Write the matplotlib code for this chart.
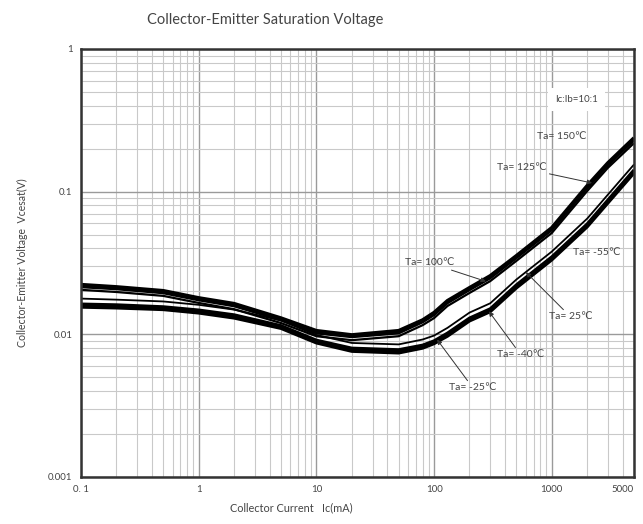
import numpy as np
import matplotlib
matplotlib.use("Agg")
import matplotlib.pyplot as plt
from matplotlib.ticker import FixedLocator, FixedFormatter, LogLocator, NullFormatter

plt.rcParams['font.family'] = ['Lato', 'DejaVu Sans']

# ------------------------------------
# Data
# ------------------------------------
ic_ma = [0.1, 0.2, 0.5, 1, 2, 5, 10, 20, 50, 80, 100, 130, 200, 300, 500, 1000, 2000, 3000, 5000]

vce_150 = [0.0223, 0.0215, 0.0202, 0.0180, 0.0164, 0.0130, 0.0106, 0.0099, 0.0106, 0.0126,
           0.0142, 0.0172, 0.0212, 0.0257, 0.0355, 0.0558, 0.110, 0.159, 0.238]
vce_125 = [0.0215, 0.0208, 0.0195, 0.0174, 0.0158, 0.0126, 0.0102, 0.0096, 0.0102, 0.0122,
           0.0137, 0.0166, 0.0205, 0.0248, 0.0343, 0.0539, 0.106, 0.154, 0.230]
vce_100 = [0.0205, 0.0198, 0.0186, 0.0166, 0.0150, 0.0120, 0.0097, 0.0091, 0.0097, 0.0116,
           0.0130, 0.0158, 0.0195, 0.0236, 0.0327, 0.0513, 0.101, 0.147, 0.219]
vce_25 = [0.0178, 0.0175, 0.0170, 0.0161, 0.0149, 0.0125, 0.0099, 0.0087, 0.0085, 0.0092,
          0.0098, 0.0111, 0.0142, 0.0165, 0.0242, 0.0380, 0.0647, 0.0953, 0.155]
vce_m25 = [0.0163, 0.0161, 0.0156, 0.0148, 0.0137, 0.0115, 0.0091, 0.0080, 0.0078, 0.0084,
           0.0090, 0.0102, 0.0130, 0.0151, 0.0222, 0.0349, 0.0594, 0.0874, 0.142]
vce_m40 = [0.0158, 0.0156, 0.0151, 0.0144, 0.0133, 0.0112, 0.0088, 0.0078, 0.0076, 0.0082,
           0.0087, 0.0099, 0.0126, 0.0147, 0.0216, 0.0339, 0.0577, 0.0849, 0.138]
vce_m55 = [0.0155, 0.0153, 0.0149, 0.0141, 0.0130, 0.0110, 0.0087, 0.0076, 0.0074, 0.0080,
           0.0086, 0.0097, 0.0124, 0.0144, 0.0211, 0.0332, 0.0566, 0.0832, 0.135]

x_ticks = [0.1, 1, 10, 100, 1000, 5000]
x_tick_labels = ["0. 1", "1", "10", "100", "1000", "5000"]
y_ticks = [0.001, 0.01, 0.1, 1]
y_tick_labels = ["0.001", "0.01", "0.1", "1"]

text_col = "#444444"

# ------------------------------------
# Figure
# ------------------------------------
fig = plt.figure(figsize=(6.43, 5.24), dpi=100)
ax = fig.add_axes([0.126, 0.0897, 0.860, 0.8168])

ax.set_xscale("log")
ax.set_yscale("log")
ax.set_xlim(0.1, 5000)
ax.set_ylim(0.001, 1)

# grid
ax.xaxis.set_minor_locator(LogLocator(base=10, subs=np.arange(2, 10)))
ax.yaxis.set_minor_locator(LogLocator(base=10, subs=np.arange(2, 10)))
ax.xaxis.set_minor_formatter(NullFormatter())
ax.yaxis.set_minor_formatter(NullFormatter())
ax.grid(True, which="minor", color="#c9c9c9", lw=0.8)
ax.grid(True, which="major", color="#9a9a9a", lw=1.0)
ax.set_axisbelow(True)

ax.xaxis.set_major_locator(FixedLocator(x_ticks))
ax.xaxis.set_major_formatter(FixedFormatter(x_tick_labels))
ax.yaxis.set_major_locator(FixedLocator(y_ticks))
ax.yaxis.set_major_formatter(FixedFormatter(y_tick_labels))
ax.tick_params(which="both", length=0, labelsize=7, colors=text_col, pad=6)
fig.canvas.draw()
last = ax.get_xticklabels()[-1]
last.set_horizontalalignment("right")
last.set_x(5000)

for s in ax.spines.values():
    s.set_linewidth(1.8)
    s.set_color("#333333")

# curves
ax.plot(ic_ma, vce_150, color="black", lw=2.6, solid_capstyle="butt")
ax.plot(ic_ma, vce_125, color="black", lw=2.0, solid_capstyle="butt")
ax.plot(ic_ma, vce_100, color="black", lw=1.6, solid_capstyle="butt")
ax.plot(ic_ma, vce_25, color="black", lw=1.3, solid_capstyle="butt")
ax.plot(ic_ma, vce_m25, color="black", lw=2.2, solid_capstyle="butt")
ax.plot(ic_ma, vce_m40, color="black", lw=2.2, solid_capstyle="butt")
ax.plot(ic_ma, vce_m55, color="black", lw=2.2, solid_capstyle="butt")

# labels with leader arrows
arrow = dict(arrowstyle="-|>", lw=0.7, color="#333333", mutation_scale=7, shrinkA=0, shrinkB=0)
fs = 7.5
ax.text(1216, 0.242, "Ta= 150℃", fontsize=fs, color=text_col, ha="center", va="center")
ax.annotate("Ta= 125℃", xy=(2200, 0.115), xytext=(557, 0.1466), fontsize=fs, color=text_col,
            ha="center", va="center", arrowprops=arrow)
ax.annotate("Ta= 100℃", xy=(276, 0.0235), xytext=(91, 0.0317), fontsize=fs, color=text_col,
            ha="center", va="center", arrowprops=arrow)
ax.text(2405, 0.0372, "Ta= -55℃", fontsize=fs, color=text_col, ha="center", va="center")
ax.annotate("Ta= 25℃", xy=(602, 0.0273), xytext=(1449, 0.01324), fontsize=fs, color=text_col,
            ha="center", va="center", arrowprops=arrow)
ax.annotate("Ta= -40℃", xy=(292, 0.0145), xytext=(546, 0.00718), fontsize=fs, color=text_col,
            ha="center", va="center", arrowprops=arrow)
ax.annotate("Ta= -25℃", xy=(106, 0.0092), xytext=(214, 0.00421), fontsize=fs, color=text_col,
            ha="center", va="center", arrowprops=arrow)

ax.text(1629, 0.44, "Ic:Ib=10:1", fontsize=7, color=text_col, ha="center", va="center",
        bbox=dict(facecolor="white", edgecolor="none", pad=5))

# titles
fig.text(265 / 643, 1 - 20 / 524, "Collector-Emitter Saturation Voltage", fontsize=10.5,
         color=text_col, ha="center", va="center")
fig.text(291 / 643, 1 - 508 / 524, "Collector Current   Ic(mA)", fontsize=7.8,
         color=text_col, ha="center", va="center")
fig.text(22 / 643, 1 - 263 / 524, "Collector-Emitter Voltage  Vcesat(V)", fontsize=7.6,
         color=text_col, ha="center", va="center", rotation=90)

fig.savefig("out.png", dpi=100)
